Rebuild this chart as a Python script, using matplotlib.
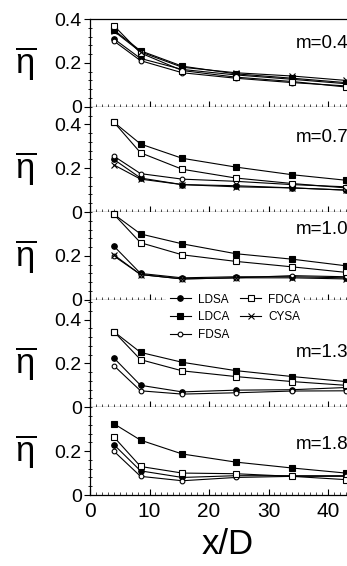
import numpy as np
import matplotlib
matplotlib.use("Agg")
import matplotlib.pyplot as plt
from matplotlib.ticker import MultipleLocator, FixedLocator, FuncFormatter

# ---------------------------------------------------------------------------
# Data
# ---------------------------------------------------------------------------
x_d = [4, 8.5, 15.5, 24.5, 34, 43]
m_labels = ["m=0.4", "m=0.7", "m=1.0", "m=1.3", "m=1.8"]
y_top = [0.40, 0.48, 0.40, 0.49, 0.40]
y_ticks = [[0, 0.2, 0.4], [0, 0.2, 0.4], [0, 0.2], [0, 0.2, 0.4], [0, 0.2]]

ldsa = [[0.31, 0.22, 0.17, 0.145, 0.125, 0.105],
        [0.24, 0.155, 0.125, 0.12, 0.11, 0.10],
        [0.245, 0.12, 0.10, 0.105, 0.105, 0.10],
        [0.225, 0.10, 0.07, 0.078, 0.08, 0.09],
        [0.23, 0.11, 0.08, 0.088, 0.088, 0.088]]
ldca = [[0.35, 0.255, 0.185, 0.15, 0.13, 0.11],
        [0.41, 0.31, 0.245, 0.205, 0.17, 0.145],
        [0.39, 0.30, 0.255, 0.21, 0.185, 0.155],
        [0.345, 0.25, 0.205, 0.167, 0.14, 0.117],
        [0.325, 0.25, 0.187, 0.15, 0.123, 0.10]]
fdsa = [[0.30, 0.21, 0.155, 0.13, 0.11, 0.095],
        [0.255, 0.175, 0.15, 0.14, 0.125, 0.115],
        [0.20, 0.115, 0.095, 0.10, 0.11, 0.105],
        [0.19, 0.075, 0.06, 0.066, 0.074, 0.075],
        [0.20, 0.085, 0.065, 0.08, 0.085, 0.085]]
fdca = [[0.37, 0.245, 0.165, 0.135, 0.115, 0.09],
        [0.41, 0.27, 0.195, 0.155, 0.13, 0.11],
        [0.39, 0.26, 0.205, 0.175, 0.15, 0.125],
        [0.345, 0.217, 0.166, 0.14, 0.117, 0.10],
        [0.265, 0.13, 0.10, 0.097, 0.085, 0.07]]
cysa = [[0.345, 0.25, 0.18, 0.155, 0.14, 0.12],
        [0.215, 0.15, 0.125, 0.115, 0.11, 0.10],
        [0.205, 0.115, 0.095, 0.10, 0.10, 0.095],
        None,
        None]

series = [("LDSA", ldsa, dict(marker="o", mfc="black", ms=4.0)),
          ("LDCA", ldca, dict(marker="s", mfc="black", ms=4.2)),
          ("FDSA", fdsa, dict(marker="o", mfc="white", ms=3.4)),
          ("FDCA", fdca, dict(marker="s", mfc="white", ms=4.2)),
          ("CYSA", cysa, dict(marker="x", mfc="black", ms=4.0))]

# ---------------------------------------------------------------------------
# Style
# ---------------------------------------------------------------------------
plt.rcParams.update({
    "font.family": ["Liberation Sans", "DejaVu Sans"],
    "mathtext.fontset": "custom",
    "mathtext.rm": "Liberation Sans",
    "mathtext.it": "Liberation Sans",
    "axes.linewidth": 0.9,
})

W, H = 347, 566
fig = plt.figure(figsize=(W / 100, H / 100), dpi=100)

left_px, top_px, bot_px = 90, 19, 495
px_per_unit_x = 5.95
xmax = 45
px_per_unit_y = (bot_px - top_px) / sum(y_top)

axes = []
y_cur = top_px
for i in range(5):
    h_px = y_top[i] * px_per_unit_y
    ax = fig.add_axes([left_px / W, 1 - (y_cur + h_px) / H,
                       xmax * px_per_unit_x / W, h_px / H])
    y_cur += h_px
    axes.append(ax)

handles = {}
for i, ax in enumerate(axes):
    for name, data, st in series:
        if data[i] is None:
            continue
        ln, = ax.plot(x_d, data[i], color="black", lw=0.8, marker=st["marker"],
                      mfc=st["mfc"], mec="black", ms=st["ms"], mew=0.8,
                      label=name, clip_on=False, zorder=3)
        handles.setdefault(name, ln)

    ax.set_xlim(0, xmax)
    ax.set_ylim(0, y_top[i])
    ax.spines["right"].set_visible(False)
    if i > 0:
        ax.spines["top"].set_visible(False)

    ax.yaxis.set_major_locator(FixedLocator(y_ticks[i]))
    ax.yaxis.set_minor_locator(MultipleLocator(0.04))
    ax.yaxis.set_major_formatter(FuncFormatter(lambda v, p: "0" if abs(v) < 1e-9 else f"{v:.1f}"))
    ax.tick_params(axis="y", which="major", direction="out", length=4, width=0.8,
                   labelsize=14, pad=2)
    ax.tick_params(axis="y", which="minor", direction="inout", length=3, width=0.6)

    ax.xaxis.set_major_locator(MultipleLocator(10))
    ax.xaxis.set_minor_locator(MultipleLocator(1))
    ax.tick_params(axis="x", which="major", direction="in", length=4, width=0.8,
                   labelsize=15, pad=5, top=False)
    ax.tick_params(axis="x", which="minor", direction="in", length=2, width=0.5, top=False)
    if i < 4:
        ax.tick_params(axis="x", labelbottom=False)

    # m label
    ax.text((347 - left_px) / (xmax * px_per_unit_x) + 0.004,
            [0.29, 0.34, 0.32, 0.25, 0.23][i] / y_top[i],
            m_labels[i], transform=ax.transAxes, ha="right", va="center",
            fontsize=13.5)
    # eta bar label
    ax.text(-(left_px - 26) / (xmax * px_per_unit_x), 0.2, r"$\overline{\eta}$",
            transform=ax.get_yaxis_transform(), ha="center", va="center",
            fontsize=25)

fig.text(0.655, 0.008, "x/D", ha="center", va="bottom", fontsize=25)

order = ["LDSA", "LDCA", "FDSA", "FDCA", "CYSA"]
leg = fig.legend([handles[n] for n in order], order, ncol=2,
                 loc="upper left", bbox_to_anchor=(166 / W, 1 - 290 / H),
                 fontsize=8.5, frameon=True, framealpha=1, facecolor="white",
                 edgecolor="none", fancybox=False, borderpad=0.3,
                 labelspacing=0.5, handlelength=1.8, handletextpad=0.6,
                 columnspacing=0.9, borderaxespad=0)
leg.set_zorder(10)

fig.savefig("out.png", dpi=100)
